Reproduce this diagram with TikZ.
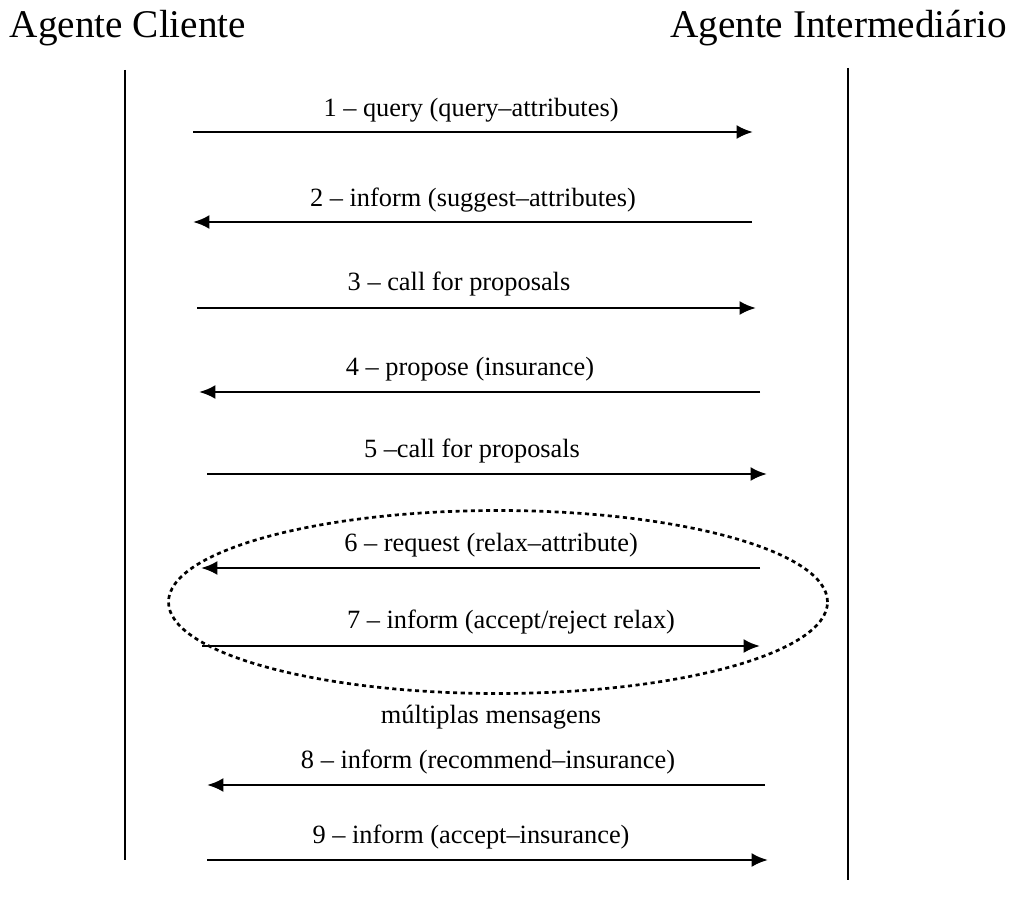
\documentclass[tikz,border=0pt]{standalone}
\usepackage{fontspec}
\setmainfont{Liberation Serif}
\usetikzlibrary{arrows.meta,shapes.geometric}
\begin{document}
\begin{tikzpicture}[x=0.03cm,y=-0.03cm,
  lifeline/.style={line width=1.9pt},
  msg/.style={line width=2.4pt,-{Latex[length=14pt,width=12pt]}},
  lbl/.style={font=\fontsize{22.5}{26}\selectfont,inner sep=0pt,anchor=base},
  title/.style={font=\fontsize{33.5}{38}\selectfont,inner sep=0pt},
  loop/.style={draw,ellipse,line width=2.3pt,dash pattern=on 3.5pt off 3pt,minimum width=659*0.03cm,minimum height=183*0.03cm,inner sep=0pt}]
\useasboundingbox (0,0) rectangle (1016,897);
\node[title,anchor=base] (tc) at (128,38) {Agente Cliente};
\node[title,anchor=base east] (ti) at (1007,38) {Agente Intermediário};
\coordinate (lt) at (125,70); \coordinate (lb) at (125,860);
\coordinate (rt) at (848,68); \coordinate (rb) at (848,880);
\draw[lifeline] (lt) -- (lb);
\draw[lifeline] (rt) -- (rb);
% messages
\coordinate (a1) at (193,132); \coordinate (b1) at (753,132);
\coordinate (a2) at (752,222); \coordinate (b2) at (193,222);
\coordinate (a3) at (197,308); \coordinate (b3) at (756,308);
\coordinate (a4) at (760,392); \coordinate (b4) at (199,392);
\coordinate (a5) at (207,474); \coordinate (b5) at (767,474);
\coordinate (a6) at (760,568); \coordinate (b6) at (201,568);
\coordinate (a7) at (202,646); \coordinate (b7) at (760,646);
\coordinate (a8) at (765,785); \coordinate (b8) at (207,785);
\coordinate (a9) at (207,860); \coordinate (b9) at (768,860);
\draw[msg] (a1) -- (b1);
\draw[msg] (a2) -- (b2);
\draw[msg] (a3) -- (b3);
\draw[msg] (a4) -- (b4);
\draw[msg] (a5) -- (b5);
\draw[msg] (a6) -- (b6);
\draw[msg] (a7) -- (b7);
\draw[msg] (a8) -- (b8);
\draw[msg] (a9) -- (b9);
\node[lbl] (l1) at (471,116) {1 – query (query–attributes)};
\node[lbl] (l2) at (473,206) {2 – inform (suggest–attributes)};
\node[lbl] (l3) at (459,290) {3 – call for proposals};
\node[lbl] (l4) at (470,375) {4 – propose (insurance)};
\node[lbl] (l5) at (472,457) {5 –call for proposals};
\node[lbl] (l6) at (491,551) {6 – request (relax–attribute)};
\node[lbl] (l7) at (511,628) {7 – inform (accept/reject relax)};
\node[lbl] (l8) at (488,768) {8 – inform (recommend–insurance)};
\node[lbl] (l9) at (471,843) {9 – inform (accept–insurance)};
\node[loop] (loopel) at (498,602) {};
\node[lbl] (ml) at (491,723) {múltiplas mensagens};
\end{tikzpicture}
\end{document}
